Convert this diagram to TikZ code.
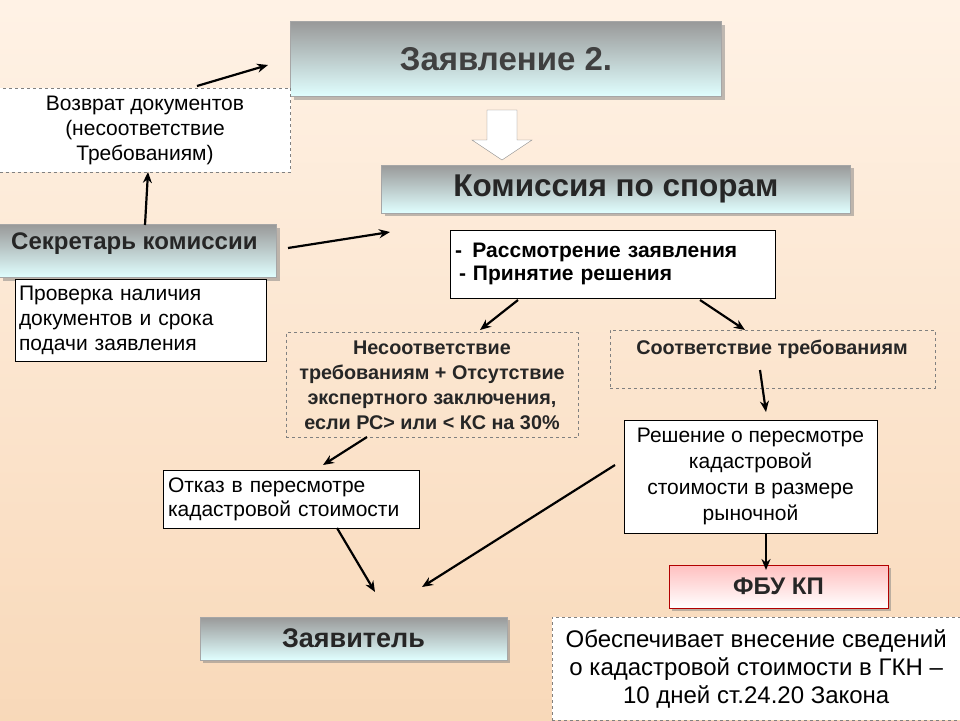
\documentclass[tikz,border=0pt]{standalone}
\usepackage{fontspec}
\setmainfont{Liberation Sans}
\usetikzlibrary{shadows,arrows.meta}
\begin{document}
\begin{tikzpicture}[x=1pt,y=-1pt,
 tbox/.style={draw=gray!70,top color=black!40,bottom color=cyan!12,drop shadow={opacity=0.5,shadow xshift=3pt,shadow yshift=-3pt},font=\bfseries,text=black!75,inner sep=0pt},
 wbox/.style={draw=black,fill=white,inner sep=0pt,font=\fontsize{21}{25}\selectfont,align=center},
 dbox/.style={draw=gray,dashed,inner sep=0pt,align=center},
 arr/.style={-{Stealth[length=11pt,width=9pt]},line width=2.2pt}]
\shade[top color=orange!10!white,bottom color=brown!35!orange!30!white] (0,0) rectangle (960,720);
\useasboundingbox (0,0) rectangle (960,720);
\node[tbox,minimum width=431pt,minimum height=75pt,font=\fontsize{33}{38}\selectfont\bfseries] (z) at (506,59) {Заявление 2.};
\node[dbox,fill=white,minimum width=291pt,minimum height=84pt,font=\fontsize{21}{25}\selectfont] (v) at (145,130) {Возврат документов\\(несоответствие\\Требованиям)};
\coordinate (va) at (197,86); \coordinate (za) at (268,65);
\draw[arr] (va) -- (za);
\draw[gray,fill=white] (487,110) -- (517,110) -- (517,140) -- (532,140) -- (502,160) -- (472,140) -- (487,140) -- cycle;
\node[tbox,minimum width=469pt,minimum height=48pt,font=\fontsize{31.5}{36}\selectfont\bfseries,text=black!85] (k) at (616,189) {Комиссия по спорам};
\node[tbox,minimum width=277pt,minimum height=53pt,text=black!85] (s) at (138,251) {};
\node[font=\fontsize{24}{28}\selectfont\bfseries,text=black!85,anchor=west,inner sep=0pt] (st) at (11,244) {Секретарь комиссии};
\coordinate (s1) at (145,225); \coordinate (v1) at (148,172);
\draw[arr] (s1) -- (v1);
\coordinate (s2) at (288,248); \coordinate (k2) at (390,232);
\draw[arr] (s2) -- (k2);
\node[wbox,minimum width=251pt,minimum height=82pt,align=left,text width=243pt] (p) at (140.5,320) {Проверка наличия\\документов и срока\\подачи заявления};
\node[wbox,minimum width=325pt,minimum height=68pt,align=left,text width=315pt,font=\fontsize{21}{23}\selectfont\bfseries] (r) at (612.5,264) {- \,Рассмотрение заявления\\\hspace*{4pt}- Принятие решения};
\node[dbox,minimum width=292pt,minimum height=105pt,font=\fontsize{19.8}{25}\selectfont\bfseries,text=black!85] (n) at (432,385) {Несоответствие\\требованиям + Отсутствие\\экспертного заключения,\\если РС> или < КС на 30\%};
\node[dbox,minimum width=325pt,minimum height=58pt,text=black!85] (c) at (772.5,359) {};
\node[font=\fontsize{19.8}{24}\selectfont\bfseries,text=black!85,inner sep=0pt] (ct) at (772,349) {Соответствие требованиям};
\coordinate (r1) at (518,300); \coordinate (n1) at (480,330);
\coordinate (r2) at (700,300); \coordinate (c1) at (745,330);
\draw[arr] (r1) -- (n1); \draw[arr] (r2) -- (c1);
\node[wbox,minimum width=253pt,minimum height=113pt,font=\fontsize{21}{26}\selectfont] (d) at (750.5,476.5) {Решение о пересмотре\\кадастровой\\стоимости в размере\\рыночной};
\coordinate (c2) at (760,370); \coordinate (d1) at (766,412);
\draw[arr] (c2) -- (d1);
\node[wbox,minimum width=256pt,minimum height=58pt,align=left,text width=246pt,font=\fontsize{21}{24}\selectfont] (o) at (291,499) {Отказ в пересмотре\\кадастровой стоимости};
\coordinate (n2) at (367,437); \coordinate (o1) at (323,465);
\draw[arr] (n2) -- (o1);
\node[draw=red!70!black,top color=red!25,bottom color=white,drop shadow={opacity=0.5,shadow xshift=3pt,shadow yshift=-3pt},minimum width=219pt,minimum height=43pt,font=\fontsize{24}{28}\selectfont\bfseries,text=black!85] (f) at (778.5,586.5) {ФБУ КП};
\node[tbox,minimum width=307pt,minimum height=43pt,font=\fontsize{27}{31}\selectfont\bfseries,text=black!85] (zz) at (353.5,638.5) {Заявитель};
\coordinate (o2) at (337,528); \coordinate (zz1) at (375,592);
\draw[arr] (o2) -- (zz1);
\coordinate (d2) at (615,465); \coordinate (zz2) at (422,587);
\draw[arr] (d2) -- (zz2);
\coordinate (d3) at (766,533); \coordinate (f1) at (766,570);
\draw[arr] (d3) -- (f1);
\node[dbox,fill=white,minimum width=408pt,minimum height=103pt,font=\fontsize{24}{28}\selectfont,anchor=north west] (ob) at (552,617) {Обеспечивает внесение сведений\\о кадастровой стоимости в ГКН --\\10 дней ст.24.20 Закона};
\end{tikzpicture}
\end{document}
